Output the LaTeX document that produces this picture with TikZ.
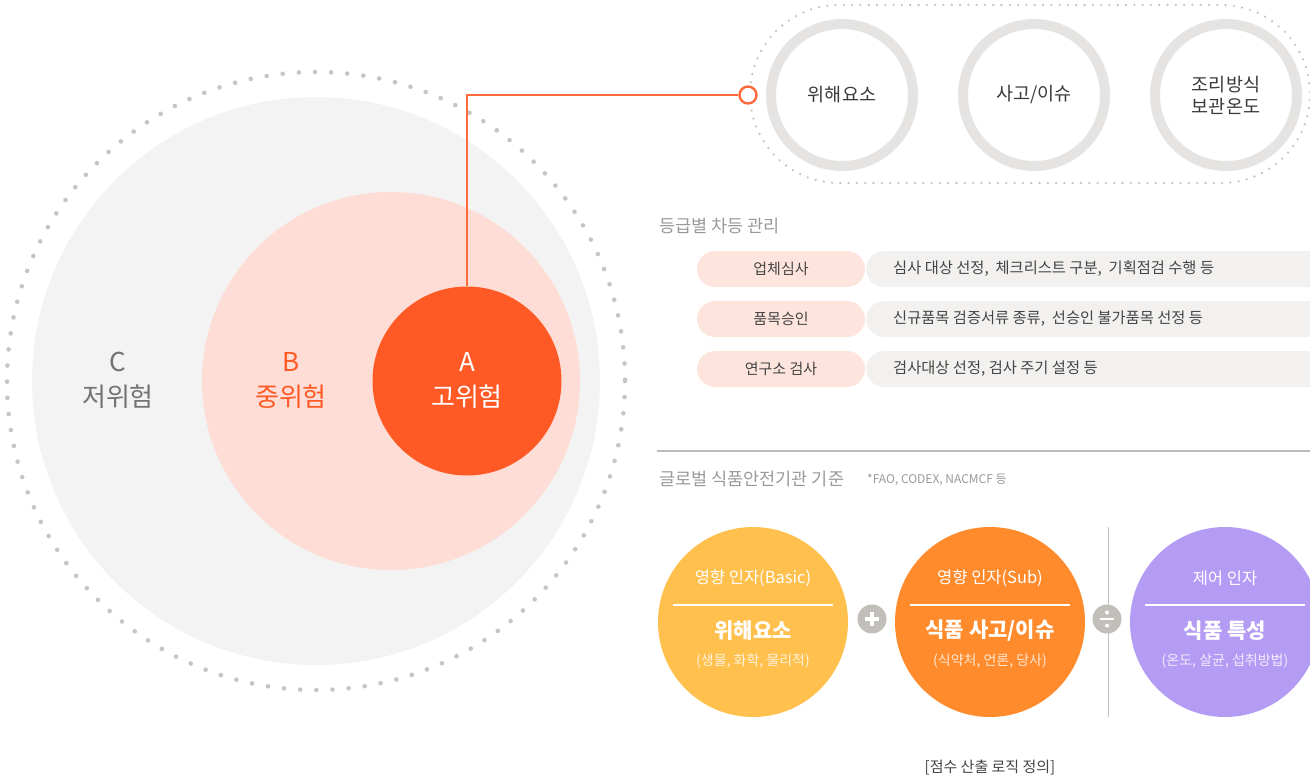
\documentclass[tikz,border=0pt]{standalone}
\usepackage{fontspec}
\setmainfont{Noto Sans CJK KR}
\definecolor{cA}{HTML}{FF5A26}
\definecolor{cB}{HTML}{FDDDD5}
\definecolor{cC}{HTML}{F3F3F3}
\definecolor{dotc}{HTML}{C8C5C1}
\definecolor{ringc}{HTML}{E5E4E2}
\definecolor{pinkp}{HTML}{FDE4DD}
\definecolor{grayp}{HTML}{F2F1EF}
\definecolor{txt}{HTML}{444444}
\definecolor{ttl}{HTML}{999999}
\definecolor{cy}{HTML}{FFC04E}
\definecolor{co}{HTML}{FF8B2C}
\definecolor{cp}{HTML}{B49CF5}
\definecolor{opc}{HTML}{C2BFBA}
\definecolor{linec}{HTML}{FF6A3D}
\definecolor{sepc}{HTML}{BBBBBB}
\tikzset{
  disc/.style={circle, inner sep=0pt, draw=none},
  ring/.style={circle, inner sep=0pt, minimum size=142pt, draw=ringc, line width=10pt, fill=white, align=center, font=\fontsize{18.5}{22}\selectfont, text=txt!85!black},
  bigl/.style={font=\fontsize{26}{30}\selectfont, align=center},
  pinkpill/.style={rectangle, rounded corners=18pt, fill=pinkp, minimum width=168pt, minimum height=36pt, inner sep=0pt, font=\fontsize{15}{18}\selectfont, text=txt},
  graypill/.style={rectangle, rounded corners=18pt, fill=grayp, minimum width=470pt, minimum height=36pt, inner sep=0pt},
  rowtext/.style={anchor=west, font=\fontsize{15.3}{18}\selectfont, text=txt, inner sep=0pt},
  sectitle/.style={anchor=west, font=\fontsize{17.5}{21}\selectfont, text=ttl, inner sep=0pt},
  factor/.style={disc, minimum size=190pt},
  fhead/.style={font=\fontsize{16.5}{19}\selectfont, text=white},
  fmain/.style={font=\bfseries\fontsize{21}{25}\selectfont, text=white},
  fsub/.style={font=\fontsize{14}{17}\selectfont, text=white, text opacity=0.8},
  opcirc/.style={disc, fill=opc, minimum size=29pt}
}
\begin{document}
\begin{tikzpicture}[x=1pt,y=-1pt]
\useasboundingbox (0,0) rectangle (1310,780);
% concentric risk circles
\draw[dotc, line width=4.6pt, line cap=round, dash pattern=on 0pt off 16.17pt] (316,381) circle[radius=309];
\node[disc, fill=cC, minimum size=568pt] (C) at (316,381) {};
\node[disc, fill=cB, minimum size=378pt] (B) at (391,381) {};
\node[disc, fill=cA, minimum size=189pt] (A) at (467,381) {};
\node[bigl, text=black!55] (Clab) at (118,380) {C\\[5pt]저위험};
\node[bigl, text=cA] (Blab) at (291,380) {B\\[5pt]중위험};
\node[bigl, text=white] (Alab) at (467,380) {A\\[5pt]고위험};
% top pill with rings
\draw[dotc, line width=2.6pt, line cap=round, dash pattern=on 0pt off 8.3pt, rounded corners=89pt] (750,5) rectangle (1310,183);
\node[ring] (r1) at (842,95) {위해요소};
\node[ring] (r2) at (1034,95) {사고/이슈};
\node[ring] (r3) at (1226,95) {조리방식\\보관온도};
\node[circle, draw=linec, line width=2.4pt, fill=white, minimum size=17pt, inner sep=0pt] (hook) at (748,95) {};
\draw[linec, line width=1.2pt] (A.north) |- (hook.west);
% graded management
\node[sectitle] (t1) at (659,226) {등급별 차등 관리};
\node[graypill, anchor=west] (g1) at (866,269) {};
\node[graypill, anchor=west] (g2) at (866,319) {};
\node[graypill, anchor=west] (g3) at (866,369) {};
\node[pinkpill] (p1) at (781,269) {업체심사};
\node[pinkpill] (p2) at (781,319) {품목승인};
\node[pinkpill] (p3) at (781,369) {연구소 검사};
\node[rowtext] (d1) at (893,269) {심사 대상 선정,\ \ 체크리스트 구분,\ \ 기획점검 수행 등};
\node[rowtext] (d2) at (893,319) {신규품목 검증서류 종류,\ \ 선승인 불가품목 선정 등};
\node[rowtext] (d3) at (893,369) {검사대상 선정, 검사 주기 설정 등};
% separator
\coordinate (s1) at (657,451);
\coordinate (s2) at (1310,451);
\draw[sepc, line width=1.6pt] (s1) -- (s2);
\node[sectitle] (t2) at (659,479) {글로벌 식품안전기관 기준};
\node[anchor=west, inner sep=0pt, font=\fontsize{12}{14}\selectfont, text=ttl] (t2n) at (867,480) {*FAO, CODEX, NACMCF 등};
% factors
\node[factor, fill=cy] (f1) at (753,622) {};
\node[factor, fill=co] (f2) at (990,622) {};
\node[factor, fill=cp] (f3) at (1225,622) {};
\coordinate (v1) at (1108,527);
\coordinate (v2) at (1108,717);
\draw[opc!80!black!60, line width=1pt] (v1) -- (v2);
\node[opcirc] (plus) at (872,619) {};
\draw[white, line width=3.2pt] ([xshift=-7pt]plus.center) -- ([xshift=7pt]plus.center) ([yshift=-7pt]plus.center) -- ([yshift=7pt]plus.center);
\node[opcirc] (divi) at (1107,619) {};
\draw[white, line width=2.6pt] ([xshift=-7pt]divi.center) -- ([xshift=7pt]divi.center);
\fill[white] ([yshift=-6.5pt]divi.center) circle[radius=2pt] ([yshift=6.5pt]divi.center) circle[radius=2pt];
\foreach \n/\x/\h/\m/\s in {1/753/{영향 인자(Basic)}/위해요소/{(생물, 화학, 물리적)}, 2/990/{영향 인자(Sub)}/{식품 사고/이슈}/{(식약처, 언론, 당사)}, 3/1225/{제어 인자}/{식품 특성}/{(온도, 살균, 섭취방법)}}{
  \node[fhead] (h\n) at (\x,578) {\h};
  \draw[white, line width=1.3pt] (\x-80,605) -- (\x+80,605);
  \node[fmain] (m\n) at (\x,631) {\m};
  \node[fsub] (u\n) at (\x,661) {\s};
}
\node[font=\fontsize{15}{18}\selectfont, text=txt] (cap) at (990,768) {[점수 산출 로직 정의]};
\end{tikzpicture}
\end{document}
